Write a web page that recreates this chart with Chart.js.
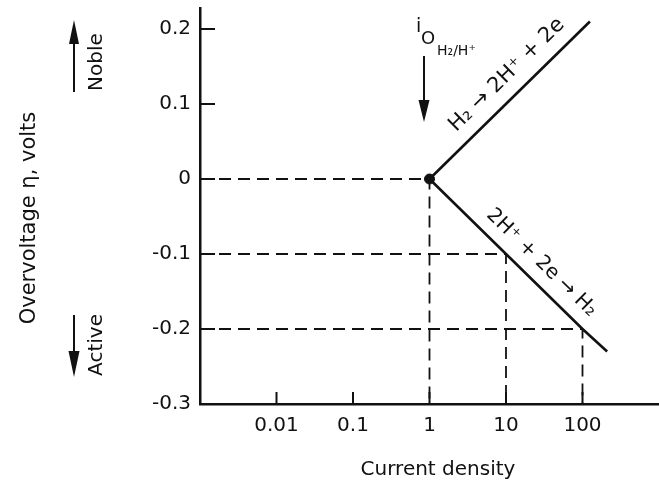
<!DOCTYPE html>
<html>
<head>
<meta charset="utf-8">
<script src="https://cdn.jsdelivr.net/npm/chart.js@4.4.1/dist/chart.umd.min.js"></script>
<style>
  html, body { margin: 0; padding: 0; background: #fff; overflow: hidden; }
  #wrap { width: 659px; height: 483px; }
  canvas { display: block; }
</style>
</head>
<body>
<div id="wrap"><canvas id="tafel"></canvas></div>
<script>
// axis ticks
const xTicks = [0.01, 0.1, 1, 10, 100];
const xTickLabels = ["0.01", "0.1", "1", "10", "100"];
const yTicks = [0.2, 0.1, 0, -0.1, -0.2, -0.3];
const yTickLabels = ["0.2", "0.1", "0", "-0.1", "-0.2", "-0.3"];

// anodic branch  H2 -> 2H+ + 2e
const anodicX = [1, 125];
const anodicY = [0, 0.21];
// cathodic branch  2H+ + 2e -> H2
const cathodicX = [1, 10, 100, 210];
const cathodicY = [0, -0.1, -0.2, -0.23];

// exchange current density point
const i0X = [1];
const i0Y = [0];

// dashed read-off lines (corner points)
const guideX = [1, 10, 100];
const guideY = [0, -0.1, -0.2];

const xMin = 0.001, xMax = 1000;
const yMin = -0.3, yMax = 0.228;

const ink = "#111";
const fam = "'DejaVu Sans', sans-serif";

const toPts = (xs, ys) => xs.map((x, i) => ({ x: x, y: ys[i] }));

const guideSets = guideX.map((gx, i) => ({
  data: [{ x: xMin, y: guideY[i] }, { x: gx, y: guideY[i] }, { x: gx, y: yMin }],
  showLine: true,
  borderColor: ink,
  borderWidth: 1.8,
  borderDash: [12, 7],
  pointRadius: 0,
}));

function arrow(ctx, x, yTail, yTip, half, head) {
  const dir = yTip > yTail ? 1 : -1;
  ctx.beginPath();
  ctx.moveTo(x, yTail);
  ctx.lineTo(x, yTip - dir * head * 0.6);
  ctx.stroke();
  ctx.beginPath();
  ctx.moveTo(x, yTip);
  ctx.lineTo(x - half, yTip - dir * head);
  ctx.lineTo(x + half, yTip - dir * head);
  ctx.closePath();
  ctx.fill();
}

function textAlong(ctx, x0, y0, x1, y1, t, off, text) {
  const ang = Math.atan2(y1 - y0, x1 - x0);
  const cx = x0 + (x1 - x0) * t;
  const cy = y0 + (y1 - y0) * t;
  ctx.save();
  ctx.translate(cx + Math.sin(ang) * off, cy - Math.cos(ang) * off);
  ctx.rotate(ang);
  ctx.textAlign = "center";
  ctx.textBaseline = "middle";
  ctx.fillText(text, 0, 0);
  ctx.restore();
}

// tick marks point into the plot in the original
const innerTicks = {
  id: "innerTicks",
  afterDatasetsDraw(chart) {
    const { ctx, scales: { x, y } } = chart;
    ctx.save();
    ctx.strokeStyle = ink;
    ctx.lineWidth = 2;
    yTicks.forEach(v => {
      const py = y.getPixelForValue(v);
      ctx.beginPath();
      ctx.moveTo(x.left, py);
      ctx.lineTo(x.left + 15, py);
      ctx.stroke();
    });
    xTicks.forEach(v => {
      const px = x.getPixelForValue(v);
      ctx.beginPath();
      ctx.moveTo(px, y.bottom);
      ctx.lineTo(px, y.bottom - 12);
      ctx.stroke();
    });
    ctx.restore();
  }
};

const labels = {
  id: "labels",
  afterDraw(chart) {
    const { ctx, scales: { x, y } } = chart;
    ctx.save();
    ctx.fillStyle = ink;
    ctx.strokeStyle = ink;
    ctx.lineWidth = 2;

    // axis titles
    ctx.font = "20px " + fam;
    ctx.textAlign = "center";
    ctx.textBaseline = "alphabetic";
    ctx.fillText("Current density", 438, 475);
    ctx.save();
    ctx.translate(35, 218);
    ctx.rotate(-Math.PI / 2);
    ctx.font = "21px " + fam;
    ctx.fillText("Overvoltage \u03B7, volts", 0, 0);
    ctx.restore();

    // noble / active
    ctx.save();
    ctx.translate(102, 62);
    ctx.rotate(-Math.PI / 2);
    ctx.fillText("Noble", 0, 0);
    ctx.restore();
    ctx.save();
    ctx.translate(102, 345);
    ctx.rotate(-Math.PI / 2);
    ctx.fillText("Active", 0, 0);
    ctx.restore();
    arrow(ctx, 74, 92, 20, 5, 24);
    arrow(ctx, 74, 315, 377, 5.5, 26);

    // exchange current density label
    ctx.textAlign = "left";
    ctx.font = "19px " + fam;
    ctx.fillText("i", 416, 32);
    ctx.font = "18px " + fam;
    ctx.fillText("O", 421, 44);
    ctx.font = "14px " + fam;
    ctx.fillText("H\u2082/H\u207A", 437, 55);
    arrow(ctx, 424, 56, 122, 5.5, 22);

    // reaction labels along the two branches
    ctx.font = "21px " + fam;
    const ax0 = x.getPixelForValue(anodicX[0]), ay0 = y.getPixelForValue(anodicY[0]);
    const ax1 = x.getPixelForValue(anodicX[anodicX.length - 1]);
    const ay1 = y.getPixelForValue(anodicY[anodicY.length - 1]);
    textAlong(ctx, ax0, ay0, ax1, ay1, 0.57, 20, "H\u2082 \u2192 2H\u207A + 2e");
    ctx.font = "20px " + fam;
    const cx1 = x.getPixelForValue(cathodicX[cathodicX.length - 1]);
    const cy1 = y.getPixelForValue(cathodicY[cathodicY.length - 1]);
    textAlong(ctx, ax0, ay0, cx1, cy1, 0.56, 18, "2H\u207A + 2e \u2192 H\u2082");
    ctx.restore();
  }
};

new Chart(document.getElementById("tafel"), {
  type: "scatter",
  data: {
    datasets: [
      {
        data: toPts(i0X, i0Y),
        pointRadius: 5,
        pointBackgroundColor: ink,
        pointBorderColor: ink,
      },
      {
        data: toPts(anodicX, anodicY),
        showLine: true,
        borderColor: ink,
        borderWidth: 2.6,
        pointRadius: 0,
      },
      {
        data: toPts(cathodicX, cathodicY),
        showLine: true,
        borderColor: ink,
        borderWidth: 2.6,
        pointRadius: 0,
      },
      ...guideSets,
    ],
  },
  options: {
    responsive: true,
    maintainAspectRatio: false,
    animation: false,
    layout: { autoPadding: false, padding: { top: 8, left: 0, right: 0, bottom: 0 } },
    plugins: { legend: { display: false }, tooltip: { enabled: false } },
    scales: {
      x: {
        type: "logarithmic",
        min: xMin,
        max: xMax,
        afterBuildTicks: s => { s.ticks = xTicks.map(v => ({ value: v })); },
        afterFit: s => { s.height = 79; s.paddingLeft = 0; s.paddingRight = 0; },
        grid: { drawOnChartArea: false, drawTicks: false },
        border: { color: ink, width: 2.5 },
        ticks: {
          autoSkip: false,
          maxRotation: 0,
          padding: 10,
          color: ink,
          font: { family: fam, size: 20 },
          callback: v => xTickLabels[xTicks.indexOf(v)],
        },
      },
      y: {
        min: yMin,
        max: yMax,
        afterBuildTicks: s => { s.ticks = yTicks.map(v => ({ value: v })); },
        afterFit: s => { s.width = 200; s.paddingTop = 0; s.paddingBottom = 0; },
        grid: { drawOnChartArea: false, drawTicks: false },
        border: { color: ink, width: 2.5 },
        ticks: {
          autoSkip: false,
          padding: 9,
          color: ink,
          font: { family: fam, size: 20 },
          callback: v => yTickLabels[yTicks.indexOf(v)],
        },
      },
    },
  },
  plugins: [innerTicks, labels],
});
</script>
</body>
</html>
